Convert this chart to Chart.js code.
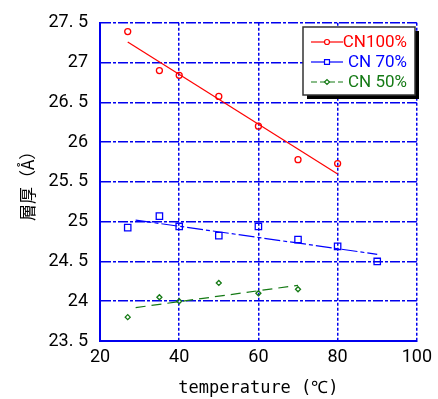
<!DOCTYPE html>
<html>
<head>
<meta charset="utf-8">
<script src="https://cdn.jsdelivr.net/npm/chart.js@4/dist/chart.umd.min.js"></script>
<style>
  body { margin: 0; background: #fff; }
  #wrap { width: 438px; height: 399px; }
</style>
</head>
<body>
<div id="wrap"><canvas id="layerChart" width="438" height="399"></canvas></div>
<script>
const temps100 = [27, 35, 40, 50, 60, 70, 80];
const cn100 = [27.39, 26.90, 26.84, 26.575, 26.20, 25.78, 25.73];
const temps70 = [27, 35, 40, 50, 60, 70, 80, 90];
const cn70 = [24.925, 25.07, 24.94, 24.825, 24.94, 24.775, 24.69, 24.50];
const temps50 = [27, 35, 40, 50, 60, 70];
const cn50 = [23.80, 24.05, 24.00, 24.23, 24.10, 24.15];

// fitted lines, endpoints only
const fitX100 = [27, 80];
const fit100 = [27.26, 25.60];
const fitX70 = [29, 90];
const fit70 = [25.02, 24.59];
const fitX50 = [29, 70];
const fit50 = [23.92, 24.20];

const seriesNames = ['CN100%', 'CN 70%', 'CN 50%'];
const xTicks = [20, 40, 60, 80, 100];
const yTicks = [23.5, 24, 24.5, 25, 25.5, 26, 26.5, 27, 27.5];
const yTickLabels = ['23. 5', '24', '24. 5', '25', '25. 5', '26', '26. 5', '27', '27. 5'];

const RED = '#ff0000';
const BLUE = '#0000ff';
const GREEN = '#157a15';
const GRID = '#0000ee';

const toPts = (xs, ys) => xs.map((x, i) => ({ x: x, y: ys[i] }));

function pointSet(label, xs, ys, color, style, radius) {
    return {
        label: label,
        data: toPts(xs, ys),
        showLine: false,
        borderColor: color,
        backgroundColor: 'rgba(0,0,0,0)',
        pointStyle: style,
        pointRadius: radius,
        pointBorderWidth: 1.3
    };
}

function fitSet(xs, ys, color, dash) {
    return {
        label: '',
        data: toPts(xs, ys),
        showLine: true,
        borderColor: color,
        borderWidth: 1.2,
        borderDash: dash,
        pointRadius: 0,
        fill: false
    };
}

// legend drawn inside the plot, like the original
const boxLegend = {
    id: 'boxLegend',
    afterDraw(chart) {
        const ctx = chart.ctx;
        const x = 303, y = 27, w = 112, h = 68;
        ctx.save();
        ctx.fillStyle = '#000';
        ctx.fillRect(x + 4, y + 4, w, h);
        ctx.fillStyle = '#fff';
        ctx.fillRect(x, y, w, h);
        ctx.strokeStyle = '#333';
        ctx.lineWidth = 1.5;
        ctx.strokeRect(x, y, w, h);

        const rows = [
            { color: RED, dash: [], style: 'circle', r: 2.5 },
            { color: BLUE, dash: [], style: 'rect', r: 3.5 },
            { color: GREEN, dash: [6, 3], style: 'rectRot', r: 2.5 }
        ];
        const rowY = [42, 62, 82];
        ctx.font = '17px Roboto, "Noto Sans CJK JP"';
        ctx.textBaseline = 'middle';
        ctx.textAlign = 'right';
        rows.forEach((r, i) => {
            ctx.strokeStyle = r.color;
            ctx.lineWidth = 1.2;
            ctx.setLineDash(r.dash);
            ctx.beginPath();
            ctx.moveTo(311, rowY[i]);
            ctx.lineTo(343, rowY[i]);
            ctx.stroke();
            ctx.setLineDash([]);
            ctx.fillStyle = '#fff';
            Chart.helpers.drawPoint(ctx, {
                pointStyle: r.style, radius: r.r, borderWidth: 1.3, rotation: 0
            }, 327, rowY[i]);
            ctx.fillStyle = r.color;
            ctx.fillText(seriesNames[i], 407, rowY[i] + 1);
        });
        ctx.restore();
    }
};

const ctx = document.getElementById('layerChart').getContext('2d');

new Chart(ctx, {
    type: 'scatter',
    data: {
        datasets: [
            fitSet(fitX100, fit100, RED, []),
            fitSet(fitX70, fit70, BLUE, [16, 3, 4, 3]),
            fitSet(fitX50, fit50, GREEN, [10, 6]),
            pointSet(seriesNames[0], temps100, cn100, RED, 'circle', 3),
            pointSet(seriesNames[1], temps70, cn70, BLUE, 'rect', 4.5),
            pointSet(seriesNames[2], temps50, cn50, GREEN, 'rectRot', 2.5)
        ]
    },
    options: {
        responsive: false,
        animation: false,
        layout: { padding: { top: 21, right: 19, left: 0, bottom: 0 } },
        plugins: {
            legend: { display: false },
            tooltip: { enabled: false }
        },
        scales: {
            x: {
                type: 'linear',
                min: 20,
                max: 100,
                afterBuildTicks: s => { s.ticks = xTicks.map(v => ({ value: v })); },
                afterFit: s => { s.height = 58; },
                grid: { color: GRID, lineWidth: 1.5, drawTicks: false },
                border: { color: GRID, width: 2, dash: [3, 2] },
                ticks: {
                    color: '#000',
                    padding: 6,
                    font: { family: 'Roboto, "Noto Sans CJK JP"', size: 18 }
                },
                title: {
                    display: true,
                    text: 'temperature (℃)',
                    color: '#000',
                    padding: { top: 6, bottom: 0 },
                    font: { family: '"DejaVu Sans Mono"', size: 17 }
                }
            },
            y: {
                type: 'linear',
                min: 23.5,
                max: 27.5,
                afterBuildTicks: s => { s.ticks = yTicks.map(v => ({ value: v })); },
                afterFit: s => { s.width = 100; },
                grid: { color: GRID, lineWidth: 1.5, drawTicks: false },
                border: { color: GRID, width: 2, dash: [10, 2, 3, 2] },
                ticks: {
                    color: '#000',
                    padding: 12,
                    font: { family: 'Roboto, "Noto Sans CJK JP"', size: 18 },
                    callback: (v, i) => yTickLabels[i]
                },
                title: {
                    display: true,
                    text: '層厚（Å）',
                    color: '#000',
                    padding: { top: 17, bottom: 4 },
                    font: { family: '"Noto Sans CJK JP"', size: 17 }
                }
            }
        }
    },
    plugins: [boxLegend]
});
</script>
</body>
</html>
